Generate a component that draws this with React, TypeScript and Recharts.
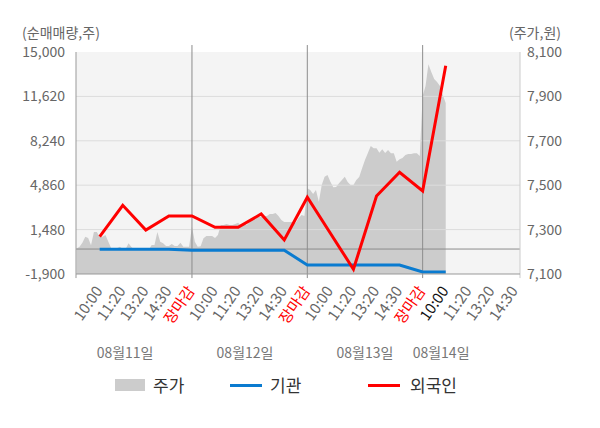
import React from 'react';
import {
  ComposedChart,
  Area,
  Line,
  XAxis,
  YAxis,
  CartesianGrid,
  ReferenceLine,
  Legend,
} from 'recharts';

// ---- categories / labels ----
const timeLabels = [
  '10:00', '11:20', '13:20', '14:30', '장마감',
  '10:00', '11:20', '13:20', '14:30', '장마감',
  '10:00', '11:20', '13:20', '14:30', '장마감',
  '10:00', '11:20', '13:20', '14:30',
];
const closeLabel = '장마감';
const currentTickIndex = 15;
const timeTickSlots = timeLabels.map((_, k) => k);
const dateLabels = ['08월11일', '08월12일', '08월13일', '08월14일'];
const dateSlots = [1.1, 6.3, 11.5, 14.8];
const dayBreakSlots = [4, 9, 14];

const leftTicks = [-1900, 1480, 4860, 8240, 11620, 15000];
const rightTicks = [7100, 7300, 7500, 7700, 7900, 8100];
const gridValues = [1480, 4860, 8240, 11620];

// ---- series ----
// 주가 (price), 8 samples per label slot, starting one slot before the first label
const prices = [
  // 08/11
  7215, 7223, 7241, 7268, 7262, 7230, 7289, 7289, 7267, 7268,
  7276, 7245, 7216, 7216, 7216, 7223, 7213, 7213, 7238, 7222,
  7208, 7208, 7208, 7208, 7208, 7208, 7231, 7231, 7289, 7245,
  7238, 7226, 7226, 7235, 7226, 7226, 7241, 7223, 7223, 7223,
  // 08/12
  7313, 7245, 7223, 7225, 7261, 7271, 7271, 7271, 7262, 7276,
  7321, 7321, 7325, 7321, 7321, 7325, 7331, 7316, 7325, 7321,
  7334, 7348, 7357, 7357, 7357, 7361, 7361, 7370, 7370, 7375,
  7361, 7343, 7334, 7334, 7334, 7334, 7331, 7352, 7366, 7361,
  // 08/13
  7486, 7478, 7460, 7478, 7426, 7501, 7538, 7546, 7516, 7491,
  7492, 7509, 7523, 7538, 7514, 7501, 7501, 7523, 7537, 7576,
  7614, 7645, 7677, 7666, 7666, 7646, 7662, 7645, 7659, 7644,
  7644, 7606, 7617, 7623, 7636, 7641, 7641, 7644, 7644, 7632,
  // 08/14
  7902, 7947, 8045, 8010, 7978, 7965, 7947, 7906, 7870,
];
// 외국인 / 기관 net volume at each label slot (0..15)
const foreign = [940, 3330, 1450, 2515, 2515, 1655, 1655, 2668, 688, 3939, 1200, -1542, 4038, 5842, 4418, 13957];
const institution = [-10, -10, -10, -10, -90, -90, -90, -90, -90, -1215, -1215, -1215, -1215, -1215, -1748, -1748];

const SAMPLES_PER_SLOT = 8;
const X_DOMAIN: [number, number] = [-1.027, 18.22];

const rows = prices.map((p, i) => {
  const row: any = { x: -1 + i / SAMPLES_PER_SLOT, price: p };
  if (i >= SAMPLES_PER_SLOT && i % SAMPLES_PER_SLOT === 0) {
    const j = i / SAMPLES_PER_SLOT - 1;
    row.foreign = foreign[j];
    row.inst = institution[j];
  }
  return row;
});

const fmt = (v: number) => v.toLocaleString('en-US');

const FONT = '"Noto Sans CJK KR", "Noto Sans", sans-serif';

function TimeTick(props: any) {
  const { x, y, payload } = props;
  const k = payload.value as number;
  const label = timeLabels[k];
  const fill = label === closeLabel ? '#ff0000' : k === currentTickIndex ? '#111111' : '#666666';
  const ax = x + 3.5;
  const ay = y + 17;
  return (
    <text x={ax} y={ay} transform={`rotate(-55 ${ax} ${ay})`} textAnchor="end" fontSize={15} fill={fill} fontFamily={FONT}>
      {label}
    </text>
  );
}

function DateTick(props: any) {
  const { x, y, payload } = props;
  const idx = dateSlots.indexOf(payload.value);
  return (
    <text x={x} y={y + 14} textAnchor="middle" fontSize={14} fill="#777777" fontFamily={FONT}>
      {dateLabels[idx]}
    </text>
  );
}

function LegendContent() {
  const text: React.CSSProperties = {
    position: 'absolute',
    top: 4,
    fontSize: 17,
    color: '#333',
    fontFamily: FONT,
    lineHeight: '22px',
  };
  return (
    <div style={{ position: 'relative', width: 600, height: 30 }}>
      <div style={{ position: 'absolute', left: 115, top: 9, width: 30, height: 12, background: '#cccccc' }} />
      <span style={{ ...text, left: 153 }}>주가</span>
      <div style={{ position: 'absolute', left: 230, top: 14, width: 32, height: 3, background: '#0a7bd0' }} />
      <span style={{ ...text, left: 270 }}>기관</span>
      <div style={{ position: 'absolute', left: 368, top: 14, width: 32, height: 3, background: '#ff0000' }} />
      <span style={{ ...text, left: 410 }}>외국인</span>
    </div>
  );
}

export default function App() {
  return (
    <div style={{ position: 'absolute', left: 0, top: 0, width: 600, height: 428, background: '#fff', fontFamily: FONT }}>
      <ComposedChart width={600} height={428} data={rows} margin={{ top: 52, right: 0, bottom: 64, left: 0 }}>
        <CartesianGrid yAxisId="left" horizontal={false} vertical={false} fill="#f4f4f4" />
        <XAxis
          type="number"
          dataKey="x"
          domain={X_DOMAIN}
          allowDataOverflow
          ticks={timeTickSlots}
          interval={0}
          tick={<TimeTick />}
          tickLine={false}
          tickSize={0}
          tickMargin={0}
          axisLine={{ stroke: '#999999' }}
          height={70}
        />
        <XAxis
          xAxisId="date"
          type="number"
          dataKey="x"
          domain={X_DOMAIN}
          allowDataOverflow
          ticks={dateSlots}
          interval={0}
          tick={<DateTick />}
          tickLine={false}
          tickSize={0}
          tickMargin={0}
          axisLine={false}
          height={20}
        />
        <YAxis
          yAxisId="left"
          orientation="left"
          width={76}
          domain={[-1900, 15000]}
          ticks={leftTicks}
          interval={0}
          allowDataOverflow
          tickFormatter={fmt}
          tick={{ fill: '#666666', fontSize: 14 }}
          tickLine={false}
          tickSize={0}
          tickMargin={11}
          axisLine={false}
          label={() => (
            <text x={61} y={38} textAnchor="middle" fontSize={14} fill="#666666" fontFamily={FONT}>
              (순매매량,주)
            </text>
          )}
        />
        <YAxis
          yAxisId="right"
          orientation="right"
          width={80}
          domain={[7100, 8100]}
          ticks={rightTicks}
          interval={0}
          allowDataOverflow
          tickFormatter={fmt}
          tick={{ fill: '#666666', fontSize: 14 }}
          tickLine={false}
          tickSize={0}
          tickMargin={7}
          axisLine={false}
          label={() => (
            <text x={535} y={38} textAnchor="middle" fontSize={14} fill="#666666" fontFamily={FONT}>
              (주가,원)
            </text>
          )}
        />
        <Area
          yAxisId="right"
          dataKey="price"
          type="linear"
          fill="#cccccc"
          fillOpacity={1}
          stroke="none"
          isAnimationActive={false}
          legendType="rect"
          name="주가"
        />
        {gridValues.map((v) => (
          <ReferenceLine key={v} yAxisId="left" y={v} stroke="#dcdcdc" strokeWidth={1} />
        ))}
        <ReferenceLine yAxisId="left" y={0} stroke="#8c8c8c" strokeWidth={1} />
        {dayBreakSlots.map((s) => (
          <ReferenceLine
            key={s}
            yAxisId="left"
            segment={[{ x: s, y: 15530 }, { x: s, y: -2210 }]}
            stroke="#8c8c8c"
            ifOverflow="visible"
          />
        ))}
        <ReferenceLine
          yAxisId="left"
          segment={[{ x: X_DOMAIN[0], y: 15000 }, { x: X_DOMAIN[0], y: -2210 }]}
          stroke="#999999"
          ifOverflow="visible"
        />
        <ReferenceLine
          yAxisId="left"
          segment={[{ x: X_DOMAIN[1], y: 15000 }, { x: X_DOMAIN[1], y: -2210 }]}
          stroke="#cccccc"
          ifOverflow="visible"
        />
        <Line
          yAxisId="left"
          dataKey="inst"
          type="linear"
          stroke="#0a7bd0"
          strokeWidth={3}
          dot={false}
          connectNulls
          isAnimationActive={false}
          name="기관"
        />
        <Line
          yAxisId="left"
          dataKey="foreign"
          type="linear"
          stroke="#ff0000"
          strokeWidth={3}
          dot={false}
          connectNulls
          isAnimationActive={false}
          name="외국인"
        />
        <Legend
          layout="horizontal"
          verticalAlign="middle"
          align="center"
          content={() => <LegendContent />}
          wrapperStyle={{ top: 370, left: 0, width: 600, height: 30 }}
        />
      </ComposedChart>
    </div>
  );
}
